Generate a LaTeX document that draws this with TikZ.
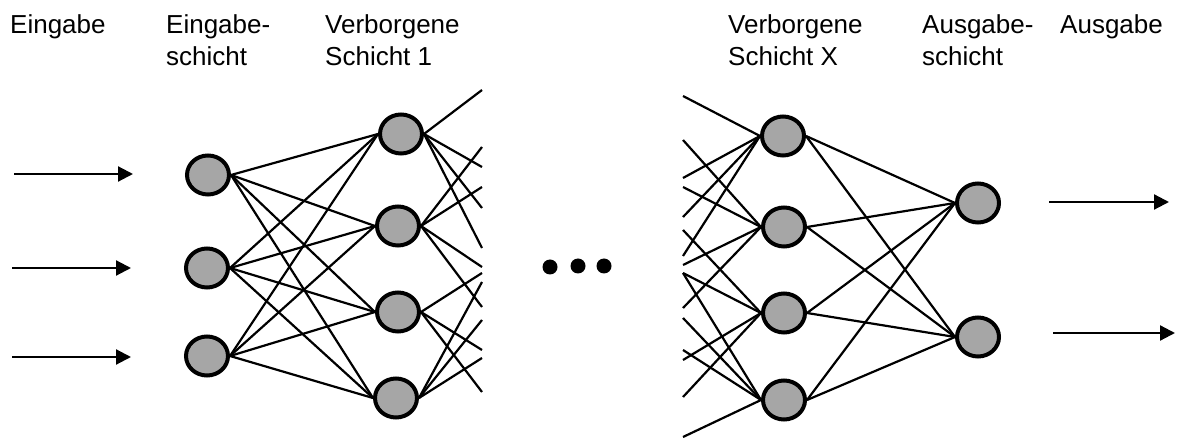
\documentclass[tikz,border=0pt]{standalone}
\usepackage{fontspec}
\setmainfont{Liberation Sans}
\usetikzlibrary{arrows.meta,shapes.geometric}
\definecolor{nodegray}{RGB}{166,166,166}
\begin{document}
\begin{tikzpicture}[x=1pt,y=-1pt,
  neuron/.style={ellipse, draw=black, line width=4pt, fill=nodegray,
    minimum width=42pt, minimum height=39pt, inner sep=0pt},
  conn/.style={line width=2.2pt, draw=black},
  flow/.style={line width=2.2pt, draw=black, -{Triangle[length=15pt,width=15pt]}},
  dotmark/.style={circle, fill=black, minimum size=15pt, inner sep=0pt},
  heading/.style={anchor=north west, inner sep=0pt, align=left,
    font=\fontsize{26}{32}\selectfont}
]
\useasboundingbox (0,0) rectangle (1178,443);

% labels
\node[heading] (t1) at (10,14) {Eingabe};
\node[heading] (t2) at (166,14) {Eingabe-\\schicht};
\node[heading] (t3) at (325,14) {Verborgene\\Schicht 1};
\node[heading] (t4) at (728,14) {Verborgene\\Schicht X};
\node[heading] (t5) at (922,14) {Ausgabe-\\schicht};
\node[heading] (t6) at (1060,14) {Ausgabe};

% neurons
\node[neuron] (i1) at (208,175) {};
\node[neuron] (i2) at (207,268) {};
\node[neuron] (i3) at (207,356) {};
\node[neuron] (h1) at (401,134) {};
\node[neuron] (h2) at (398,226) {};
\node[neuron] (h3) at (398,312) {};
\node[neuron] (h4) at (396,398) {};
\node[neuron] (x1) at (783,136) {};
\node[neuron] (x2) at (784,227) {};
\node[neuron] (x3) at (784,313) {};
\node[neuron] (x4) at (784,400) {};
\node[neuron] (o1) at (978,203) {};
\node[neuron] (o2) at (978,337) {};

% full connections
\foreach \a in {i1,i2,i3}
  \foreach \b in {h1,h2,h3,h4}
    \draw[conn] (\a.east) -- (\b.west);
\foreach \a in {x1,x2,x3,x4}
  \foreach \b in {o1,o2}
    \draw[conn] (\a.east) -- (\b.west);

% stubs leaving hidden layer 1
\foreach \n/\y [count=\k] in {h1/90,h1/167,h1/208,h1/248,h2/147,h2/187,h2/267,h2/307,h3/273,h3/350,h3/392,h4/282,h4/320,h4/358} {
  \coordinate (hs\k) at (482,\y);
  \draw[conn] (\n.east) -- (hs\k);
}
% stubs entering hidden layer X
\foreach \n/\y [count=\k] in {x1/96,x1/178,x1/217,x1/256,x2/140,x2/187,x2/265,x2/308,x3/230,x3/273,x3/360,x3/397,x4/273,x4/318,x4/350,x4/437} {
  \coordinate (xs\k) at (683,\y);
  \draw[conn] (xs\k) -- (\n.west);
}

% dots
\node[dotmark] (d1) at (550,267) {};
\node[dotmark] (d2) at (578,266) {};
\node[dotmark] (d3) at (604,266) {};

% input arrows
\coordinate (ia1) at (14,174);  \coordinate (ib1) at (133,174);
\coordinate (ia2) at (12,268);  \coordinate (ib2) at (131,268);
\coordinate (ia3) at (12,357);  \coordinate (ib3) at (131,357);
\draw[flow] (ia1) -- (ib1);
\draw[flow] (ia2) -- (ib2);
\draw[flow] (ia3) -- (ib3);

% output arrows
\coordinate (oa1) at (1049,202); \coordinate (ob1) at (1169,202);
\coordinate (oa2) at (1053,333); \coordinate (ob2) at (1175,333);
\draw[flow] (oa1) -- (ob1);
\draw[flow] (oa2) -- (ob2);
\end{tikzpicture}
\end{document}
